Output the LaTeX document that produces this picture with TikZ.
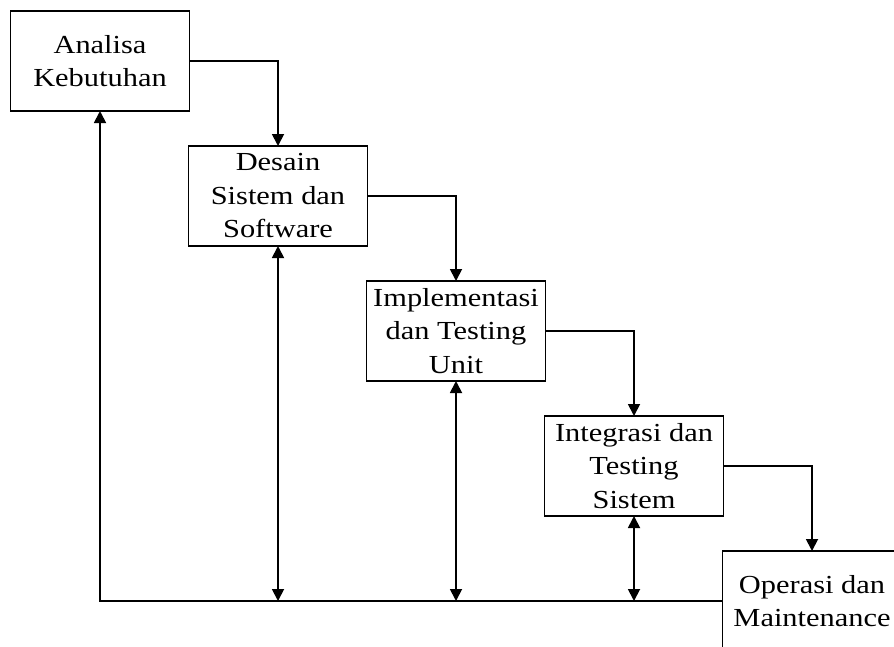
\documentclass[tikz,border=0pt]{standalone}
\usepackage{fontspec}
\setmainfont{Liberation Serif}[FakeStretch=1.17]
\usetikzlibrary{arrows.meta,positioning}

\begin{document}
\begin{tikzpicture}[x=1pt,y=-1pt,>={Triangle[length=12pt,width=12pt]},line width=1.8pt,
		node distance=35pt and -1pt,
		phase/.style={draw,rectangle,minimum width=179pt,minimum height=100pt,inner sep=1pt,outer sep=0pt,
			align=center,font=\fontsize{26}{33.5}\selectfont},
		elbow/.style={to path={-| (\tikztotarget)}}]
	\useasboundingbox (0,0) rectangle (894,646);
	\clip (0,0) rectangle (894,646);
	\node[phase] (ana) at (100,61) {Analisa\\Kebutuhan};
	\node[phase] [below right=of ana] (des) {Desain\\Sistem dan\\Software};
	\node[phase] [below right=of des] (imp) {Implementasi\\dan Testing\\Unit};
	\node[phase] [below right=of imp] (int) {Integrasi dan\\Testing\\Sistem};
	\node[phase] [below right=of int] (ops) {Operasi dan\\Maintenance};
	\path[->]
	(ana) edge [elbow] (des)
	(des) edge [elbow] (imp)
	(imp) edge [elbow] (int)
	(int) edge [elbow] (ops)
	(ops) edge [elbow] (ana)
	(des) edge [<->] (des |- ops)
	(imp) edge [<->] (imp |- ops)
	(int) edge [<->] (int |- ops);
\end{tikzpicture}
\end{document}
